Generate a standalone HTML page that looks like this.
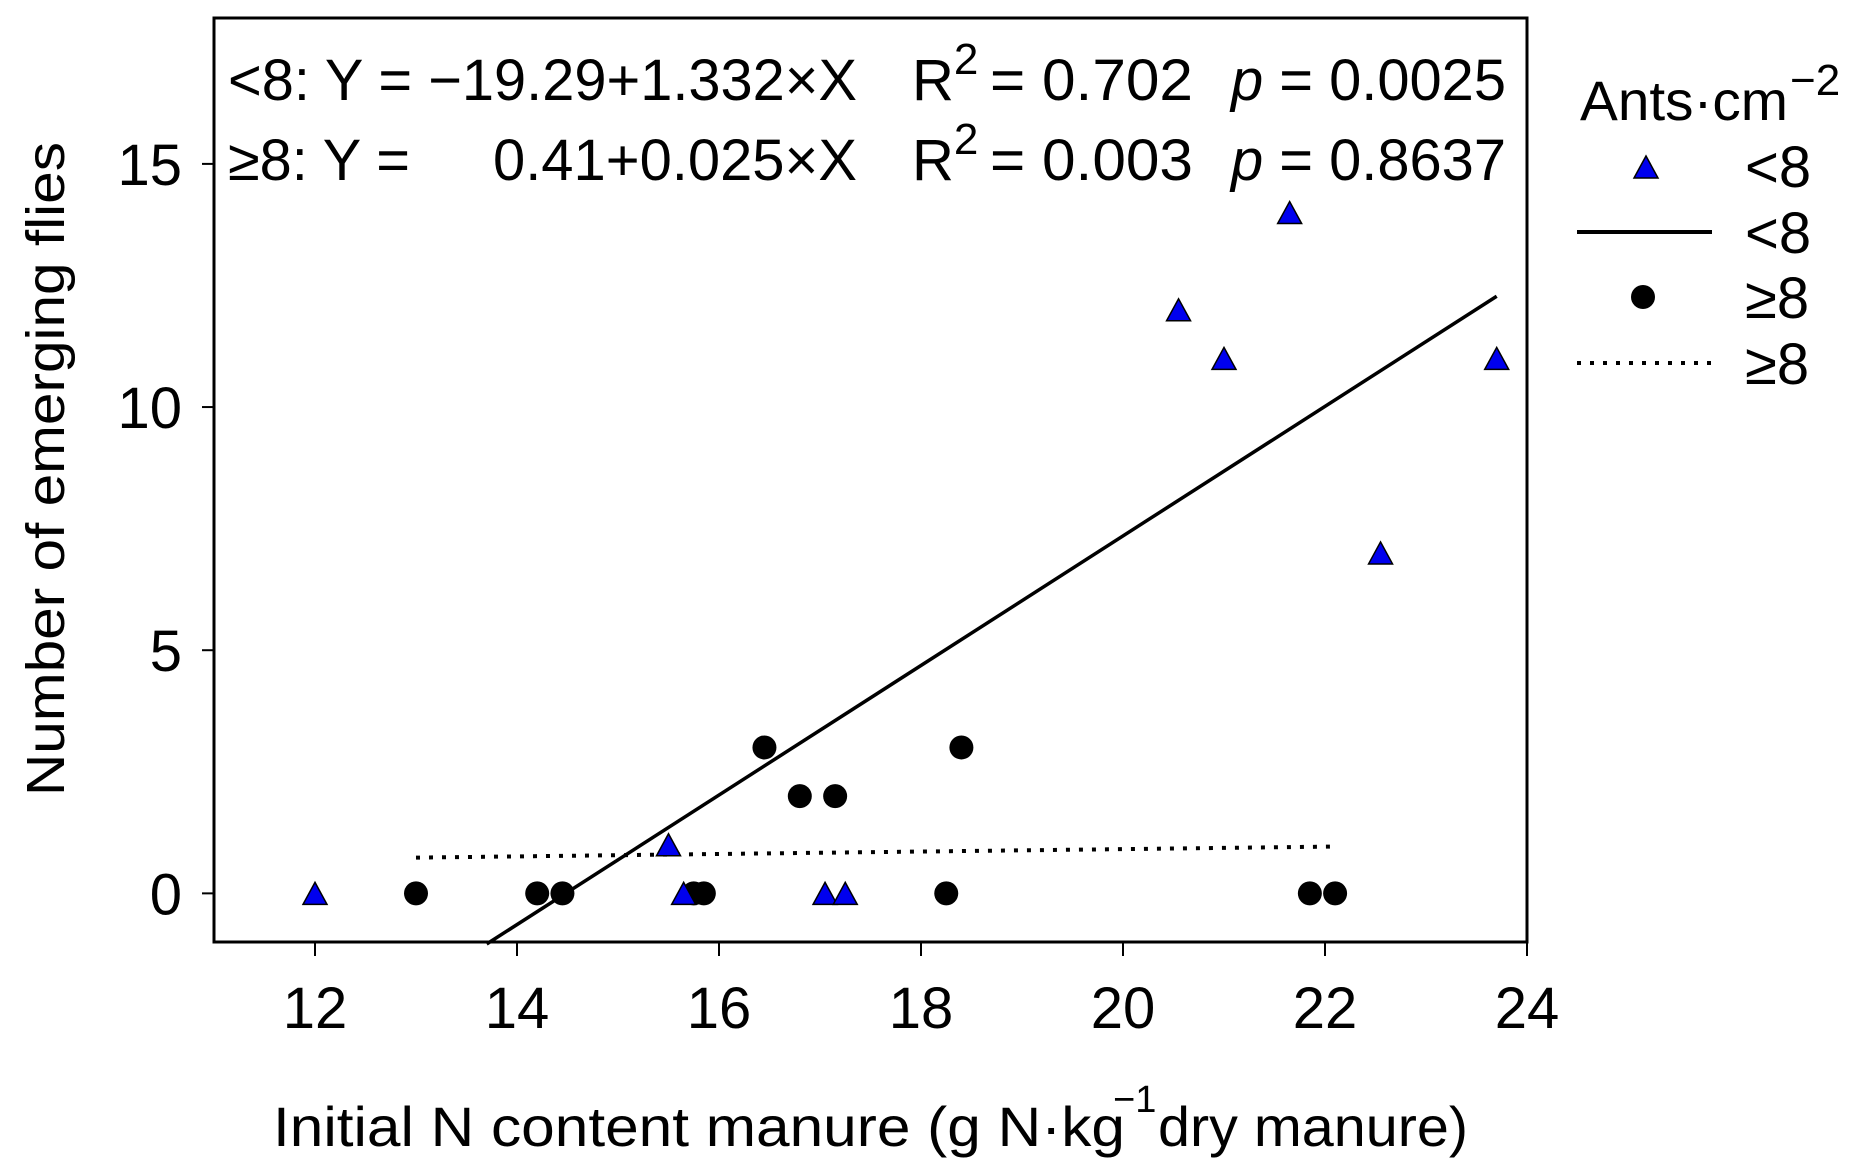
<!DOCTYPE html>
<html><head><meta charset="utf-8"><style>
html,body{margin:0;padding:0;background:#fff}
svg text{font-family:"Liberation Sans",sans-serif;fill:#000}
</style></head><body>
<svg id="chart" width="1862" height="1170" viewBox="0 0 1862 1170" xmlns="http://www.w3.org/2000/svg">
<g id="plot"></g>
<g id="legend">
<text x="1580" y="120" font-size="56" textLength="208" lengthAdjust="spacingAndGlyphs">Ants·cm</text>
<text x="1790" y="95" font-size="44">−2</text>
<polygon points="1634,178 1658,178 1646,156" fill="#0000ee" stroke="#000" stroke-width="1.5"/>
<text x="1745" y="187" font-size="58">&lt;8</text>
<line x1="1577" y1="232" x2="1712" y2="232" stroke="#000" stroke-width="4"/>
<text x="1745" y="253" font-size="58">&lt;8</text>
<circle cx="1643" cy="297" r="12" fill="#000"/>
<text x="1745" y="318" font-size="58">≥8</text>
<line x1="1577" y1="363" x2="1712" y2="363" stroke="#000" stroke-width="4" stroke-dasharray="4,9"/>
<text x="1745" y="384" font-size="58">≥8</text>
</g>
<g>
<text x="228" y="100" font-size="58" textLength="629" lengthAdjust="spacingAndGlyphs">&lt;8: Y = −19.29+1.332×X</text>
<text x="912" y="100" font-size="58">R<tspan dy="-26" font-size="44">2</tspan></text>
<text x="990" y="100" font-size="58" textLength="203" lengthAdjust="spacingAndGlyphs">= 0.702</text>
<text x="1231" y="100" font-size="58" textLength="275" lengthAdjust="spacingAndGlyphs"><tspan font-style="italic">p</tspan> = 0.0025</text>
<text x="228" y="180" font-size="58" textLength="182" lengthAdjust="spacingAndGlyphs">≥8: Y =</text>
<text x="493" y="180" font-size="58" textLength="364" lengthAdjust="spacingAndGlyphs">0.41+0.025×X</text>
<text x="912" y="180" font-size="58">R<tspan dy="-26" font-size="44">2</tspan></text>
<text x="990" y="180" font-size="58" textLength="203" lengthAdjust="spacingAndGlyphs">= 0.003</text>
<text x="1231" y="180" font-size="58" textLength="275" lengthAdjust="spacingAndGlyphs"><tspan font-style="italic">p</tspan> = 0.8637</text>
</g>
<text transform="translate(64,469) rotate(-90)" text-anchor="middle" font-size="54" textLength="654" lengthAdjust="spacingAndGlyphs">Number of emerging flies</text>
<g>
<text x="273" y="1146" font-size="56" textLength="852" lengthAdjust="spacingAndGlyphs">Initial N content manure (g N·kg</text>
<text x="1113" y="1112" font-size="38">−1</text>
<text x="1158" y="1146" font-size="56" textLength="310" lengthAdjust="spacingAndGlyphs">dry manure)</text>
</g>
</svg>
<script>
const xTicks = [12, 14, 16, 18, 20, 22, 24];
const yTicks = [0, 5, 10, 15];
const triX = [12, 15.5, 15.65, 17.05, 17.25, 20.55, 21.0, 21.65, 22.55, 23.7];
const triY = [0, 1, 0, 0, 0, 12, 11, 14, 7, 11];
const cirX = [13, 14.2, 14.45, 15.75, 15.85, 16.45, 16.8, 17.15, 18.25, 18.4, 21.85, 22.1];
const cirY = [0, 0, 0, 0, 0, 3, 2, 2, 0, 3, 0, 0];
const fitLt8 = [-19.29, 1.332];
const fitLt8Range = [13.7, 23.7];
const fitGe8 = [0.41, 0.025];
const fitGe8Range = [13, 22.1];

const L = 214, R = 1527, T = 18, B = 942;
const xMin = 11, xMax = 24, yMin = -1, yMax = 18;
const sx = v => L + (v - xMin) / (xMax - xMin) * (R - L);
const sy = v => B - (v - yMin) / (yMax - yMin) * (B - T);
const NS = 'http://www.w3.org/2000/svg';
const plot = document.getElementById('plot');
function mk(tag, attrs) {
  const e = document.createElementNS(NS, tag);
  for (const k in attrs) e.setAttribute(k, attrs[k]);
  plot.appendChild(e);
  return e;
}
let frame = mk('rect', {x: L, y: T, width: R - L, height: B - T, fill: 'none', stroke: '#000', 'stroke-width': 3});


xTicks.forEach(t => {
  const x = sx(t);
  const tk = mk('line', {x1: x, y1: B, x2: x, y2: B + 14, stroke: '#000', 'stroke-width': 2});
  
  
  const lb = mk('text', {x: x, y: B + 86, 'text-anchor': 'middle', 'font-size': 58});
  lb.textContent = t;
  
  
});
yTicks.forEach(t => {
  const y = sy(t);
  const tk = mk('line', {x1: L - 12, y1: y, x2: L, y2: y, stroke: '#000', 'stroke-width': 2});
  
  
  const lb = mk('text', {x: L - 32, y: y + 21, 'text-anchor': 'end', 'font-size': 58});
  lb.textContent = t;
  
  
});
const l1 = mk('line', {x1: sx(fitLt8Range[0]), y1: sy(fitLt8[0] + fitLt8[1] * fitLt8Range[0]), x2: sx(fitLt8Range[1]), y2: sy(fitLt8[0] + fitLt8[1] * fitLt8Range[1]), stroke: '#000', 'stroke-width': 3.5});


const l2 = mk('line', {x1: sx(fitGe8Range[0]), y1: sy(fitGe8[0] + fitGe8[1] * fitGe8Range[0]), x2: sx(fitGe8Range[1]), y2: sy(fitGe8[0] + fitGe8[1] * fitGe8Range[1]), stroke: '#000', 'stroke-width': 4, 'stroke-dasharray': '4,9'});


cirX.forEach((v, i) => {
  const c = mk('circle', {cx: sx(v), cy: sy(cirY[i]), r: 12, fill: '#000'});
  
  
});
triX.forEach((v, i) => {
  const x = sx(v), y = sy(triY[i]);
  const p = mk('polygon', {points: `${x-12},${y+11} ${x+12},${y+11} ${x},${y-11}`, fill: '#0000ee', stroke: '#000', 'stroke-width': 1.5});
  
  
});
</script>
</body></html>
